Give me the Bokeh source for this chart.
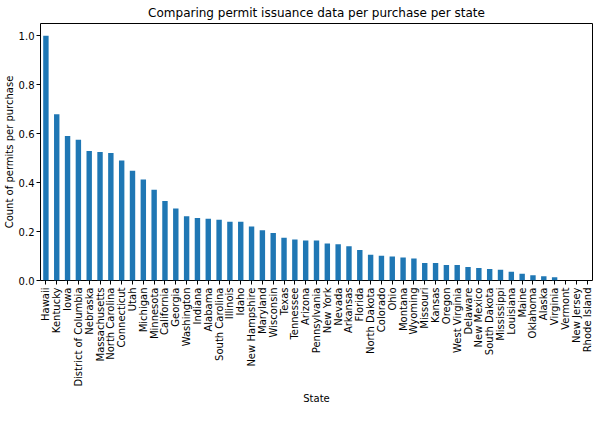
import math
from bokeh.plotting import figure
from bokeh.models import FixedTicker, NumeralTickFormatter, ColumnDataSource
from bokeh.embed import file_html
from bokeh.resources import INLINE

states = ["Hawaii", "Kentucky", "Iowa", "District of Columbia", "Nebraska",
          "Massachusetts", "North Carolina", "Connecticut", "Utah", "Michigan",
          "Minnesota", "California", "Georgia", "Washington", "Indiana",
          "Alabama", "South Carolina", "Illinois", "Idaho", "New Hampshire",
          "Maryland", "Wisconsin", "Texas", "Tennessee", "Arizona",
          "Pennsylvania", "New York", "Nevada", "Arkansas", "Florida",
          "North Dakota", "Colorado", "Ohio", "Montana", "Wyoming",
          "Missouri", "Kansas", "Oregon", "West Virginia", "Delaware",
          "New Mexico", "South Dakota", "Mississippi", "Louisiana", "Maine",
          "Oklahoma", "Alaska", "Virginia", "Vermont", "New Jersey",
          "Rhode Island"]

values = [1.000, 0.679, 0.590, 0.575, 0.529,
          0.525, 0.521, 0.490, 0.448, 0.413,
          0.371, 0.325, 0.294, 0.263, 0.255,
          0.252, 0.248, 0.240, 0.240, 0.221,
          0.205, 0.194, 0.175, 0.167, 0.163,
          0.163, 0.151, 0.148, 0.140, 0.125,
          0.105, 0.101, 0.098, 0.094, 0.090,
          0.071, 0.071, 0.063, 0.063, 0.055,
          0.051, 0.047, 0.044, 0.036, 0.028,
          0.021, 0.017, 0.013, 0.0, 0.0,
          0.0]

y_ticks = [0.0, 0.2, 0.4, 0.6, 0.8, 1.0]

source = ColumnDataSource(dict(state=states, value=values))

p = figure(width=593, height=406, x_range=states, y_range=(0, 1.05),
           output_backend="svg", toolbar_location=None,
           title="Comparing permit issuance data per purchase per state",
           min_border_left=0, min_border_right=1, min_border_top=0, min_border_bottom=0)

p.vbar(x="state", top="value", width=0.5, source=source,
       color="#1f77b4", line_color=None)

p.title.align = "center"
p.title.text_font = "DejaVu Sans"
p.title.text_font_size = "12px"
p.title.text_font_style = "normal"
p.title.text_color = "black"
p.title.standoff = 7
p.title.offset = 0

p.xgrid.visible = False
p.ygrid.visible = False
p.outline_line_color = "black"
p.outline_line_width = 1
p.outline_line_alpha = 1

for ax in (p.xaxis[0], p.yaxis[0]):
    ax.axis_line_color = None
    ax.major_tick_line_color = "black"
    ax.major_tick_out = 4
    ax.major_tick_in = 0
    ax.minor_tick_line_color = None
    ax.major_label_text_font = "DejaVu Sans"
    ax.major_label_text_font_size = "10px"
    ax.major_label_text_color = "black"
    ax.axis_label_text_font = "DejaVu Sans"
    ax.axis_label_text_font_size = "10px"
    ax.axis_label_text_font_style = "normal"
    ax.axis_label_text_color = "black"
    ax.major_label_standoff = 3
    ax.axis_label_standoff = 3

p.yaxis.axis_label_standoff = 1
p.yaxis.major_label_standoff = 2

p.xaxis.axis_label = "State"
p.xaxis.major_label_orientation = math.pi / 2
p.yaxis.axis_label = "Count of permits per purchase"
p.yaxis.ticker = FixedTicker(ticks=y_ticks)
p.yaxis.formatter = NumeralTickFormatter(format="0.0")
p.x_range.range_padding = 0

open("out.html", "w").write(file_html(p, INLINE))
